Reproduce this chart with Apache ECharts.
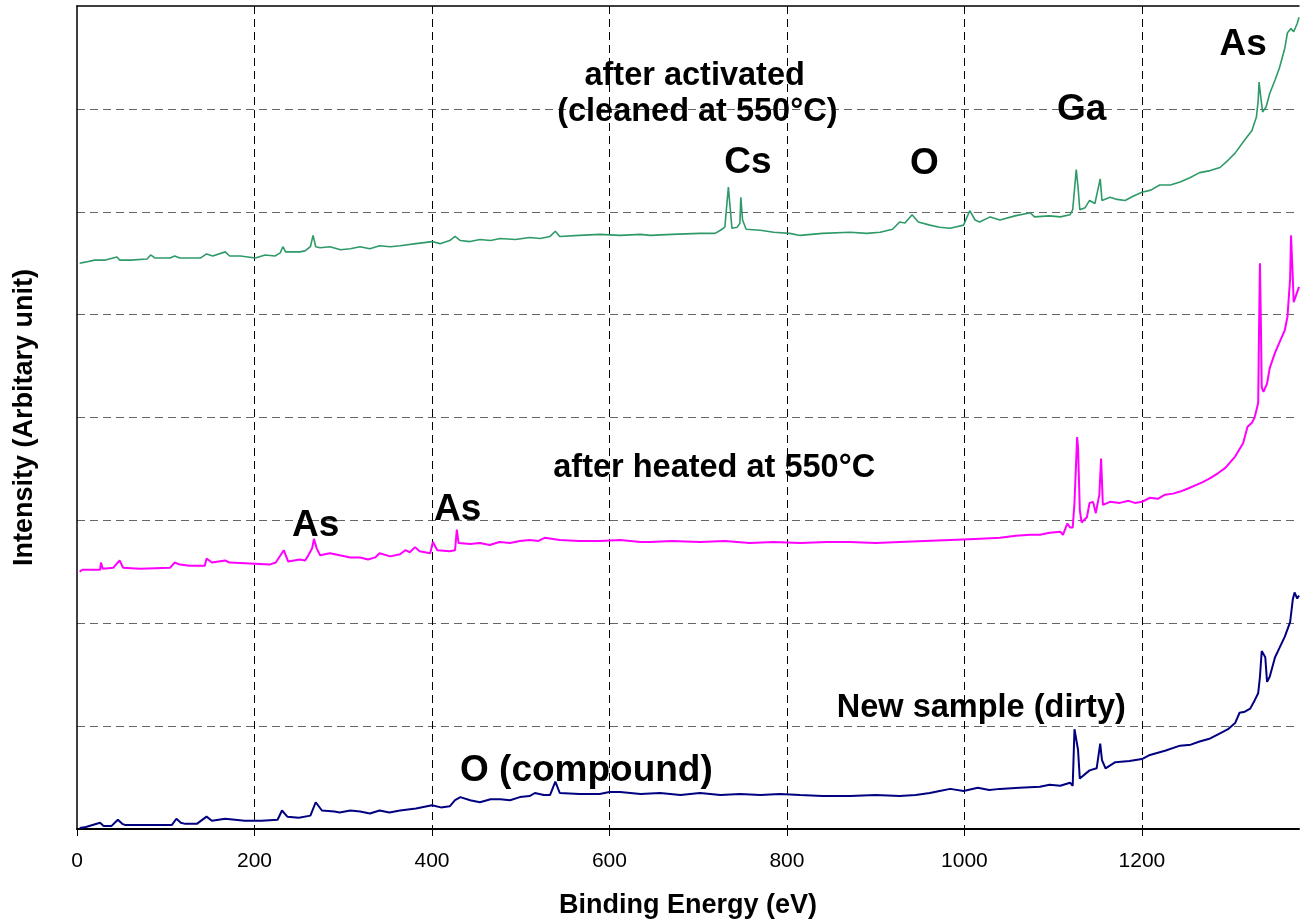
<!DOCTYPE html>
<html>
<head>
<meta charset="utf-8">
<script src="https://cdn.jsdelivr.net/npm/echarts@6/dist/echarts.min.js"></script>
<style>
html,body{margin:0;padding:0;background:#fff;}
#chart{width:1300px;height:924px;}
</style>
</head>
<body>
<div id="chart"></div>
<script>
// X ticks (Binding Energy, eV)
const xTicks = [0, 200, 400, 600, 800, 1000, 1200];

// New sample (dirty) : [binding energy eV, intensity a.u.]
const newSample = [
[3,0.01],[10,0.02],[26,0.06],[30,0.03],[39,0.03],[46,0.09],[51,0.05],[54,0.04],[107,0.04],[112,0.10],
[117,0.06],[122,0.05],[135,0.05],[146,0.12],[152,0.08],[167,0.10],[189,0.08],[208,0.08],[226,0.09],[231,0.18],
[237,0.12],[250,0.11],[263,0.13],[269,0.26],[276,0.18],[290,0.17],[296,0.16],[308,0.18],[319,0.17],[330,0.15],
[341,0.18],[352,0.16],[364,0.18],[382,0.20],[400,0.23],[410,0.21],[420,0.22],[426,0.28],[432,0.31],[443,0.28],
[454,0.26],[466,0.29],[477,0.29],[488,0.28],[499,0.31],[510,0.32],[516,0.35],[526,0.33],[533,0.33],[539,0.46],
[544,0.35],[566,0.34],[589,0.34],[600,0.36],[612,0.36],[635,0.34],[657,0.35],[680,0.33],[702,0.35],[725,0.33],
[747,0.34],[770,0.33],[792,0.34],[815,0.33],[840,0.32],[871,0.32],[900,0.33],[927,0.32],[945,0.33],[961,0.35],
[972,0.37],[984,0.39],[999,0.37],[1015,0.40],[1028,0.38],[1040,0.39],[1062,0.40],[1085,0.41],[1096,0.43],[1108,0.42],
[1119,0.45],[1122,0.42],[1124,0.97],[1128,0.77],[1130,0.49],[1141,0.57],[1149,0.59],[1153,0.83],[1155,0.67],[1159,0.59],
[1170,0.65],[1186,0.66],[1200,0.68],[1209,0.72],[1226,0.76],[1243,0.81],[1255,0.82],[1265,0.85],[1277,0.88],[1288,0.93],
[1297,0.97],[1305,1.03],[1310,1.13],[1316,1.14],[1322,1.17],[1327,1.25],[1331,1.32],[1333,1.48],[1335,1.73],[1339,1.67],
[1341,1.43],[1344,1.48],[1350,1.67],[1355,1.76],[1361,1.87],[1367,2.01],[1370,2.23],[1372,2.30],[1375,2.24],[1377,2.27]
];

// after heated at 550°C
const heated = [
[3,2.50],[6,2.52],[26,2.52],[27,2.59],[29,2.53],[41,2.54],[48,2.61],[52,2.54],[71,2.53],[105,2.54],
[110,2.59],[116,2.57],[127,2.56],[144,2.56],[146,2.63],[152,2.59],[167,2.61],[172,2.59],[195,2.58],[217,2.57],
[224,2.59],[233,2.71],[238,2.60],[251,2.62],[257,2.61],[260,2.65],[265,2.73],[267,2.82],[270,2.73],[274,2.66],
[285,2.68],[296,2.66],[308,2.64],[319,2.64],[328,2.62],[336,2.64],[341,2.68],[353,2.65],[364,2.67],[370,2.71],
[375,2.69],[381,2.74],[386,2.70],[398,2.68],[401,2.79],[406,2.71],[420,2.70],[426,2.71],[428,2.91],[430,2.78],
[443,2.77],[454,2.78],[465,2.76],[476,2.79],[488,2.78],[499,2.80],[510,2.81],[520,2.80],[527,2.83],[544,2.81],
[566,2.80],[589,2.80],[612,2.81],[635,2.79],[646,2.79],[670,2.80],[702,2.79],[730,2.80],[758,2.78],[785,2.79],
[815,2.78],[845,2.79],[871,2.79],[900,2.78],[927,2.79],[955,2.80],[984,2.81],[1012,2.82],[1040,2.83],[1058,2.85],
[1074,2.86],[1085,2.86],[1096,2.88],[1108,2.89],[1111,2.86],[1116,2.97],[1119,2.93],[1122,2.93],[1124,3.17],[1127,3.81],
[1128,3.71],[1130,3.10],[1132,2.98],[1138,3.03],[1141,3.17],[1145,3.18],[1148,3.07],[1152,3.25],[1154,3.60],[1156,3.15],
[1164,3.18],[1175,3.17],[1185,3.19],[1192,3.17],[1200,3.18],[1209,3.22],[1218,3.21],[1226,3.25],[1235,3.26],[1243,3.28],
[1252,3.31],[1260,3.34],[1268,3.37],[1277,3.41],[1286,3.46],[1294,3.51],[1305,3.62],[1314,3.75],[1319,3.91],[1324,3.95],
[1327,4.00],[1331,4.14],[1332,4.88],[1333,5.50],[1334,4.95],[1335,4.29],[1337,4.25],[1341,4.33],[1344,4.48],[1350,4.63],
[1355,4.73],[1361,4.85],[1364,4.98],[1367,5.35],[1368,5.77],[1370,5.36],[1371,5.12],[1373,5.17],[1377,5.27]
];

// after activated (cleaned at 550°C)
const activated = [
[3,5.50],[9,5.51],[20,5.53],[32,5.53],[45,5.56],[48,5.53],[60,5.53],[79,5.54],[83,5.58],[88,5.55],
[105,5.55],[110,5.57],[116,5.55],[139,5.55],[146,5.59],[153,5.57],[167,5.61],[172,5.57],[184,5.57],[201,5.55],
[212,5.58],[223,5.57],[229,5.60],[232,5.66],[235,5.61],[251,5.61],[257,5.62],[263,5.66],[266,5.77],[269,5.66],
[274,5.65],[285,5.66],[297,5.63],[308,5.64],[319,5.66],[330,5.64],[341,5.67],[353,5.66],[364,5.67],[382,5.69],
[400,5.71],[409,5.69],[420,5.72],[426,5.76],[432,5.72],[443,5.71],[454,5.73],[466,5.72],[477,5.74],[494,5.73],
[510,5.75],[522,5.74],[533,5.76],[539,5.81],[544,5.76],[566,5.77],[589,5.78],[612,5.77],[635,5.78],[646,5.77],
[670,5.78],[702,5.79],[719,5.79],[725,5.82],[730,5.85],[734,6.24],[736,6.04],[738,5.84],[744,5.85],[747,5.89],
[748,6.14],[750,5.92],[754,5.83],[770,5.82],[785,5.80],[803,5.79],[815,5.77],[840,5.79],[871,5.80],[890,5.79],
[905,5.80],[919,5.83],[927,5.90],[933,5.89],[941,5.97],[948,5.90],[961,5.87],[972,5.85],[984,5.84],[999,5.87],
[1006,6.01],[1012,5.92],[1017,5.90],[1029,5.95],[1040,5.92],[1057,5.96],[1074,5.99],[1079,5.95],[1096,5.96],[1108,5.95],
[1119,5.97],[1122,6.02],[1126,6.41],[1128,6.24],[1130,6.02],[1136,6.04],[1141,6.11],[1147,6.08],[1153,6.32],[1155,6.11],
[1164,6.14],[1172,6.12],[1181,6.11],[1190,6.15],[1200,6.19],[1210,6.21],[1220,6.26],[1232,6.26],[1243,6.29],[1254,6.33],
[1265,6.38],[1277,6.40],[1288,6.43],[1297,6.50],[1305,6.57],[1316,6.70],[1324,6.79],[1329,6.92],[1331,7.08],[1332,7.26],
[1334,7.11],[1336,6.97],[1340,7.02],[1344,7.15],[1350,7.28],[1355,7.40],[1361,7.59],[1364,7.74],[1368,7.78],[1371,7.75],
[1375,7.83],[1377,7.89]
];

// Annotation texts with their positions in data space [eV, intensity]
const labelTexts = ["after activated","(cleaned at 550°C)","Cs","O","Ga","As","after heated at 550°C","As","As","New sample (dirty)","O (compound)"];
const labelX =     [696, 699, 756, 955, 1132, 1314, 718, 269, 429, 1019, 574];
const labelY =     [7.32, 6.97, 6.48, 6.47, 6.99, 7.62, 3.51, 2.95, 3.10, 1.18, 0.57];
const labelSize =  [32.5, 32.5, 37, 37, 37, 37, 32.5, 37, 37, 32.5, 37];

const FONT = '"Liberation Sans", Arial, sans-serif';
const chart = echarts.init(document.getElementById('chart'), null, {renderer:'canvas'});

const option = {
  animation: false,
  backgroundColor: '#ffffff',
  grid: {left: 77, right: 1, top: 6, bottom: 95, containLabel: false, outerBoundsMode: 'none'},
  xAxis: [{
    type: 'value', min: 0, max: 1377, interval: 200,
    name: 'Binding Energy (eV)', nameLocation: 'middle', nameGap: 63,
    nameTextStyle: {fontFamily: FONT, fontWeight: 'bold', fontSize: 27, color: '#000'},
    axisLine: {show: true, onZero: false, lineStyle: {color: '#000', width: 2}},
    axisTick: {show: true, length: 7, inside: false, lineStyle: {color: '#000', width: 1}},
    axisLabel: {fontFamily: FONT, fontSize: 21, color: '#000', margin: 22, showMaxLabel: false,
      formatter: v => xTicks.indexOf(v) >= 0 ? String(v) : ''},
    splitLine: {show: true, showMaxLine: false, showMinLine: false,
      lineStyle: {color: '#000', type: [8, 5], width: 1}}
  }, {
    type: 'value', position: 'top', min: 0, max: 1377,
    axisLine: {show: true, onZero: false, lineStyle: {color: '#000', width: 1.5}},
    axisTick: {show: false}, axisLabel: {show: false}, splitLine: {show: false}
  }],
  yAxis: {
    type: 'value', min: 0, max: 8, interval: 1,
    name: 'Intensity (Arbitary unit)', nameLocation: 'middle', nameGap: 39,
    nameTextStyle: {fontFamily: FONT, fontWeight: 'bold', fontSize: 27, color: '#000'},
    axisLine: {show: true, lineStyle: {color: '#000', width: 1.5}},
    axisTick: {show: false},
    axisLabel: {show: false},
    splitLine: {show: true, showMinLine: false, showMaxLine: false,
      lineStyle: {color: '#666', type: [8, 5], width: 1}}
  },
  series: [
    {name: 'New sample (dirty)', type: 'line', data: newSample, showSymbol: false, symbol: 'none',
     lineStyle: {color: '#000080', width: 2}, z: 3},
    {name: 'after heated at 550°C', type: 'line', data: heated, showSymbol: false, symbol: 'none',
     lineStyle: {color: '#ff00ff', width: 2}, z: 3},
    {name: 'after activated', type: 'line', data: activated, showSymbol: false, symbol: 'none',
     lineStyle: {color: '#2e9a68', width: 1.6}, z: 3}
  ]
};
chart.setOption(option);

const graphics = labelTexts.map((t, i) => {
  const p = chart.convertToPixel({xAxisIndex: 0, yAxisIndex: 0}, [labelX[i], labelY[i]]);
  return {type: 'text', x: p[0], y: p[1], z: 10,
    style: {text: t, fill: '#000', font: 'bold ' + labelSize[i] + 'px ' + FONT,
      textAlign: 'center', textVerticalAlign: 'middle'}};
});
chart.setOption({graphic: graphics});
</script>
</body>
</html>
